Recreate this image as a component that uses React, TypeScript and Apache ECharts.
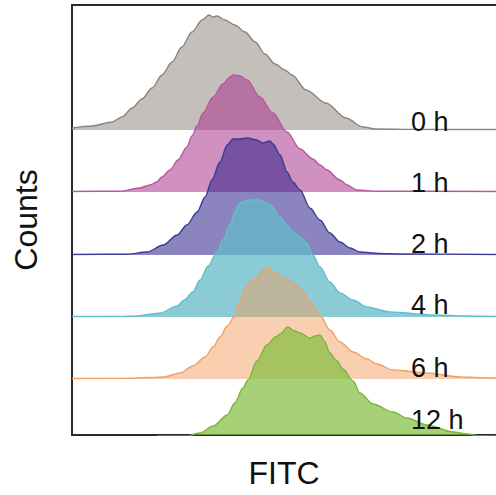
import React, { useEffect, useRef } from 'react';
import * as echarts from 'echarts';

// ---- data: [FITC, counts] ----
const timeLabels = ['0 h', '1 h', '2 h', '4 h', '6 h', '12 h'];

const h0: number[][] = [[0,2],[4.7,4],[9.4,8],[11.8,13],[14.2,22],[16.5,31],[18.9,42],[21.2,55],[23.6,68],[25.9,83],[28.3,98],[30.7,110],[32.3,115],[33.3,113],[34.2,114],[36.1,110],[38.4,105],[40.8,98],[43.2,88],[45.5,76],[47.9,66],[50.2,60],[51.9,55],[55.2,40],[59.9,27],[64.6,12],[68.6,3],[71.7,1],[80,0.6],[100,0.5]];
const h1: number[][] = [[0,0.5],[11.3,0.8],[16.0,4],[18.4,7],[20.0,10],[21.2,15],[23.1,22],[25.0,32],[27.1,45],[28.3,56],[29.5,66],[30.9,79],[33.3,95],[35.6,108],[37.3,115],[38.0,117],[39.6,116],[41.3,112],[44.3,95],[47.4,79],[50.7,60],[53.8,43],[56.8,33],[58.5,27],[60.1,22],[63.2,12],[64.9,7],[67.2,2],[72,0.8],[100,0.5]];
const h2: number[][] = [[0,0.5],[13.0,0.8],[17.7,3],[21.5,10],[24.8,20],[27.1,30],[29.5,43],[31.4,58],[33.0,75],[34.9,93],[36.6,110],[38.0,116],[39.6,116],[41.3,117],[43.6,115],[45.0,112],[46.7,114],[47.4,111],[49.1,100],[50.7,83],[52.1,73],[53.8,65],[56.1,47],[58.5,35],[60.8,22],[63.2,13],[65.6,7],[67.9,3],[72.6,1.5],[77.4,1],[100,0.5]];
const h4: number[][] = [[0,0.5],[11.3,0.6],[15.3,1],[19.1,3],[20.8,4],[24.8,11],[26.5,17],[28.5,25],[30.2,37],[32.1,51],[34.2,65],[35.6,77],[37.3,92],[38.4,105],[39.6,114],[41.3,117],[44.3,117],[46.7,112],[49.1,100],[50.7,92],[52.1,85],[53.8,80],[55.4,74],[56.8,62],[58.5,50],[60.8,35],[63.2,24],[66.3,17],[69.6,10],[75.0,5],[85.1,2],[93,1],[100,0.5]];
const h6: number[][] = [[0,0.5],[11.3,0.6],[19.1,1.5],[21.6,2],[25.5,6],[28.5,13],[31.4,22],[33.3,32],[34.9,42],[36.6,53],[38.4,63],[39.6,77],[40.8,90],[42.0,97],[43.6,101],[45.0,109],[46.2,112],[47.4,107],[49.8,101],[52.1,96],[54.2,89],[56.1,77],[58.5,64],[60.8,49],[63.2,37],[66.3,27],[69.6,20],[71.9,15],[75.7,9],[83.7,6],[91.5,2],[99.3,1],[100,1]];
const h12: number[][] = [[20,0],[25,2],[30.2,8],[33.3,15],[36.6,26],[38.4,38],[40.3,53],[41.5,61],[43.6,80],[46.0,96],[48.0,104],[49.1,107],[50.9,114],[52.5,110],[53.8,108],[56.1,103],[57.4,105],[58.5,106],[59.5,100],[60.8,88],[62.5,80],[63.9,72],[66.3,60],[67.9,48],[71.0,37],[75.7,29],[79.0,23],[83.7,16],[89.9,9],[93.2,7],[96,5],[100,4]];

const histograms = [h0, h1, h2, h4, h6, h12];

// ---- styles ----
const fillColors = [
  'rgba(150,139,133,0.55)',
  'rgba(170,52,140,0.55)',
  'rgba(46,31,137,0.55)',
  'rgba(100,185,200,0.75)',
  'rgba(242,160,100,0.5)',
  'rgba(130,190,60,0.7)',
];
const lineColors = ['#8a8582', '#b9559f', '#3b3d8e', '#5fc0cb', '#f0a065', '#7cb342'];

// ---- layout (pixels) ----
const FRAME_LEFT = 72;
const FRAME_TOP = 5;
const FRAME_BOTTOM = 435;
const BASELINES = [130, 192, 255, 317, 379, 441];
const LABEL_X = 411;
const LABEL_Y = [122, 183, 244, 305, 368, 420];
const FONT = 'Liberation Sans, Arial, Helvetica, sans-serif';

export default function App() {
  const ref = useRef<HTMLDivElement>(null);
  useEffect(() => {
    const chart = echarts.init(ref.current!, null, { renderer: 'svg' });
    const last = BASELINES.length - 1;
    const grids = BASELINES.map((b) => ({
      left: FRAME_LEFT,
      right: 0,
      top: FRAME_TOP,
      height: Math.min(b, FRAME_BOTTOM) - FRAME_TOP,
      containLabel: false,
    }));
    const axisLine = { show: true, lineStyle: { color: '#2a2a2a', width: 2 } };
    const xAxes: any[] = BASELINES.map((_, i) => ({
      gridIndex: i,
      type: 'value',
      min: 0,
      max: 100,
      show: i === last,
      axisLine: i === last ? axisLine : { show: false },
      axisTick: { show: false },
      axisLabel: { show: false },
      splitLine: { show: false },
      name: i === last ? 'FITC' : '',
      nameLocation: 'middle',
      nameGap: 22,
      nameTextStyle: { fontSize: 32, fontFamily: FONT, color: '#111' },
    }));
    xAxes.push({
      gridIndex: last,
      type: 'value',
      position: 'top',
      min: 0,
      max: 100,
      axisLine,
      axisTick: { show: false },
      axisLabel: { show: false },
      splitLine: { show: false },
    });
    const yAxes = BASELINES.map((b, i) => ({
      gridIndex: i,
      type: 'value',
      min: b > FRAME_BOTTOM ? b - FRAME_BOTTOM : 0,
      max: b - FRAME_TOP,
      show: i === last,
      axisLine: i === last ? axisLine : { show: false },
      axisTick: { show: false },
      axisLabel: { show: false },
      splitLine: { show: false },
      name: i === last ? 'Counts' : '',
      nameLocation: 'middle',
      nameGap: 30,
      nameTextStyle: { fontSize: 32, fontFamily: FONT, color: '#111' },
    }));
    const series = histograms.map((d, i) => ({
      type: 'line',
      name: timeLabels[i],
      xAxisIndex: i,
      yAxisIndex: i,
      data: d,
      symbol: 'none',
      showSymbol: false,
      smooth: 0.3,
      smoothMonotone: 'x',
      clip: true,
      lineStyle: { color: lineColors[i], width: 1.4 },
      areaStyle: { color: fillColors[i], opacity: 1, origin: 'start' },
      z: 2,
    }));
    const graphic = timeLabels.map((t, i) => ({
      type: 'text',
      x: LABEL_X,
      y: LABEL_Y[i],
      z: 100,
      style: {
        text: t,
        fontSize: 27,
        fontFamily: FONT,
        fill: '#111',
        textAlign: 'left',
        textVerticalAlign: 'middle',
        verticalAlign: 'middle',
      },
    }));
    chart.setOption({
      animation: false,
      backgroundColor: '#fff',
      grid: grids,
      xAxis: xAxes,
      yAxis: yAxes,
      series,
      graphic,
    });
    return () => chart.dispose();
  }, []);
  return <div ref={ref} style={{ position: 'fixed', left: 0, top: 0, width: 496, height: 495 }} />;
}
